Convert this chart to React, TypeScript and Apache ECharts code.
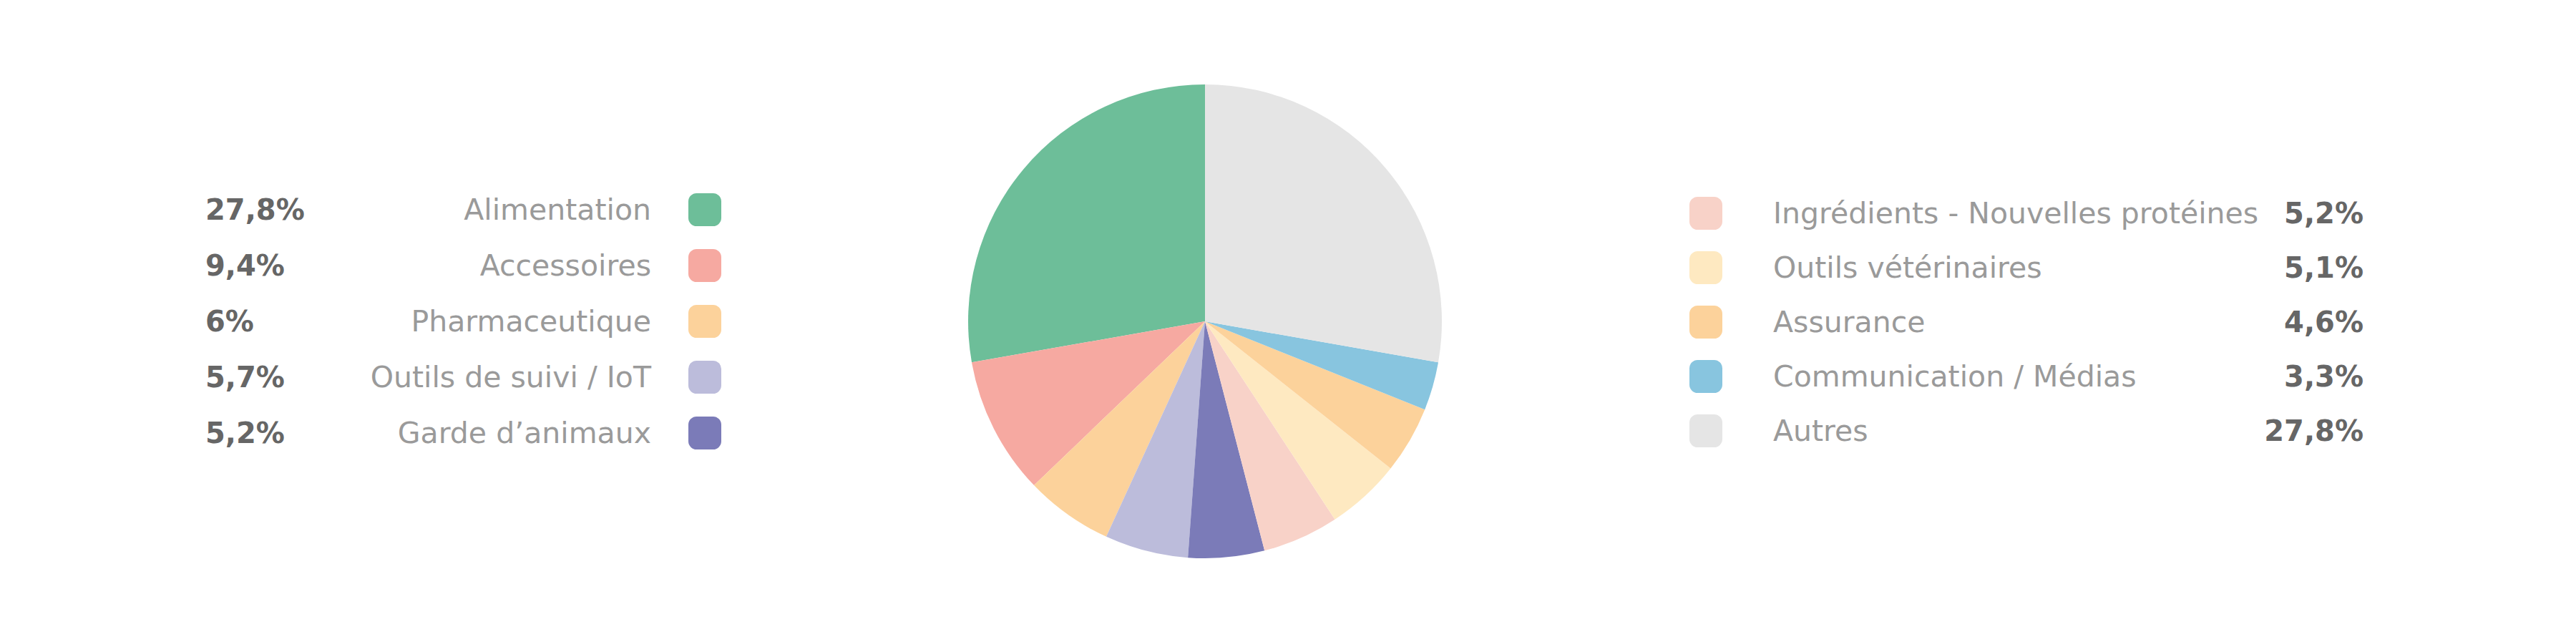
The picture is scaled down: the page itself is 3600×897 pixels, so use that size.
import React, { useEffect, useRef } from "react";
import * as echarts from "echarts";

const categories = [
  "Alimentation",
  "Accessoires",
  "Pharmaceutique",
  "Outils de suivi / IoT",
  "Garde d’animaux",
  "Ingrédients - Nouvelles protéines",
  "Outils vétérinaires",
  "Assurance",
  "Communication / Médias",
  "Autres",
];
const values = [27.8, 9.4, 6, 5.7, 5.2, 5.2, 5.1, 4.6, 3.3, 27.8];
const colors = [
  "#6dbe99",
  "#f6a9a1",
  "#fcd29b",
  "#bcbcdb",
  "#7b7bb8",
  "#f8d2c8",
  "#fee9c1",
  "#fcd29b",
  "#88c5df",
  "#e5e5e5",
];
const leftNames = categories.slice(0, 5);
const rightNames = categories.slice(5);

const fmtPct = (v: number) => String(v).replace(".", ",") + "%";

const FONT = "DejaVu Sans";

export default function App() {
  const ref = useRef<HTMLDivElement>(null);
  useEffect(() => {
    if (!ref.current) return;
    const chart = echarts.init(ref.current, null, { renderer: "svg" });
    const pctStyle = {
      fontFamily: FONT,
      fontSize: 40,
      fontWeight: "bold",
      color: "#666666",
      lineHeight: 46,
    };
    const nameStyle = {
      fontFamily: FONT,
      fontSize: 41,
      color: "#9a9a9a",
      lineHeight: 46,
    };
    chart.setOption({
      animation: false,
      backgroundColor: "#ffffff",
      legend: [
        {
          data: leftNames.map((n) => ({ name: n, icon: "roundRect" })),
          orient: "vertical",
          align: "right",
          left: 287,
          top: 270,
          padding: 0,
          itemWidth: 46,
          itemHeight: 46,
          itemGap: 32,
          selectedMode: false,
          formatter: (name: string) => {
            const i = categories.indexOf(name);
            return `{pct|${fmtPct(values[i])}}{name|${name}}{gap|}`;
          },
          textStyle: {
            rich: {
              pct: { ...pctStyle, width: 200, align: "left" },
              name: { ...nameStyle, width: 423, align: "right" },
              gap: { width: 47, lineHeight: 46 },
            },
          },
        },
        {
          data: rightNames.map((n) => ({ name: n, icon: "roundRect" })),
          orient: "vertical",
          align: "left",
          left: 2361,
          top: 275,
          padding: 0,
          itemWidth: 46,
          itemHeight: 46,
          itemGap: 30,
          selectedMode: false,
          formatter: (name: string) => {
            const i = categories.indexOf(name);
            return `{gap|}{name|${name}}{pct|${fmtPct(values[i])}}`;
          },
          textStyle: {
            rich: {
              gap: { width: 66, lineHeight: 46 },
              name: { ...nameStyle, width: 625, align: "left" },
              pct: { ...pctStyle, width: 200, align: "right" },
            },
          },
        },
      ],
      series: [
        {
          type: "pie",
          center: [1684, 449],
          radius: [0, 331],
          startAngle: 90,
          clockwise: false,
          label: { show: false },
          labelLine: { show: false },
          emphasis: { disabled: true },
          itemStyle: { borderWidth: 0 },
          data: categories.map((name, i) => ({
            name,
            value: values[i],
            itemStyle: { color: colors[i] },
          })),
        },
      ],
    });
    return () => chart.dispose();
  }, []);
  return (
    <div
      ref={ref}
      style={{ position: "absolute", left: 0, top: 0, width: 3600, height: 897 }}
    />
  );
}
